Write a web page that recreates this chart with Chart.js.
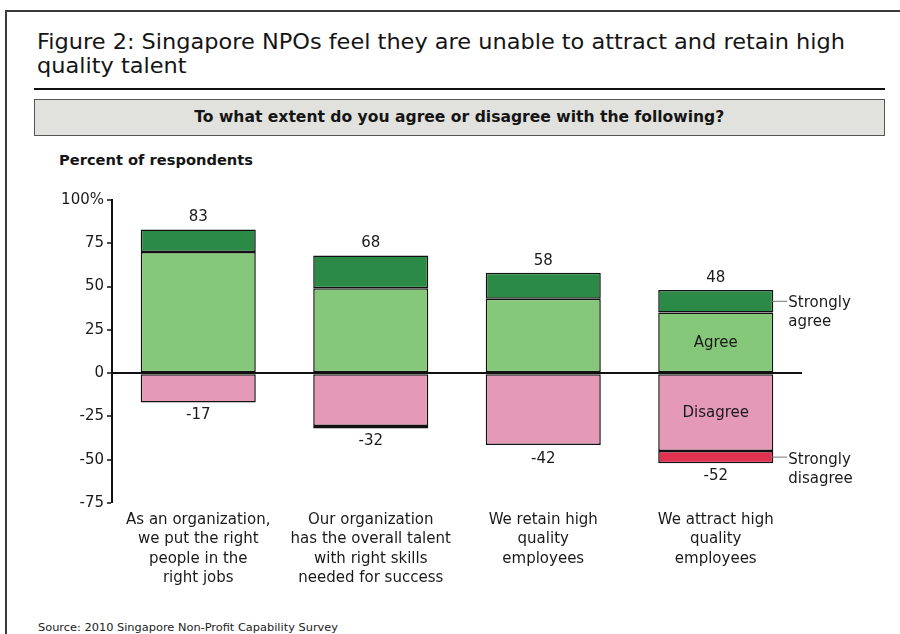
<!DOCTYPE html>
<html>
<head>
<meta charset="utf-8">
<script src="https://cdn.jsdelivr.net/npm/chart.js@4"></script>
<style>
  html, body { margin: 0; padding: 0; background: #fff; }
  body { width: 900px; height: 634px; position: relative; overflow: hidden; font-family: "DejaVu Sans", Verdana, sans-serif; color: #151515; }
  .abs { position: absolute; white-space: nowrap; }
  .fit { transform-origin: 0 50%; display: inline-block; }
  #frame { left: 5px; top: 10px; width: 920px; height: 700px; border-left: 2px solid #3a3a3a; border-top: 2px solid #3a3a3a; }
  #t1, #t2 { left: 37px; font-size: 21px; line-height: 24px; }
  #t1 { top: 30px; }
  #t2 { top: 54px; }
  #rule { left: 34px; top: 88px; width: 851px; height: 2px; background: #111; }
  #box { left: 34px; top: 99px; width: 849px; height: 35px; background: #e1e1dd; border: 1.5px solid #555; }
  #sub { left: 0; top: 0; width: 849px; height: 35px; line-height: 35px; text-align: center; font-weight: bold; font-size: 15px; }
  #pct { left: 59px; top: 151px; font-weight: bold; font-size: 14px; line-height: 18px; }
  #src { left: 38px; top: 621px; font-size: 10px; line-height: 14px; color: #222; }
  #c { position: absolute; left: 0; top: 0; }
</style>
</head>
<body>
<div id="frame" class="abs"></div>
<div id="t1" class="abs"><span class="fit" data-w="808">Figure 2: Singapore NPOs feel they are unable to attract and retain high</span></div>
<div id="t2" class="abs"><span class="fit" data-same="t1">quality talent</span></div>
<div id="rule" class="abs"></div>
<div id="box" class="abs"><div id="sub" class="abs"><span class="fit" data-w="530" style="transform-origin:50% 50%">To what extent do you agree or disagree with the following?</span></div></div>
<div id="pct" class="abs"><span class="fit" data-w="194">Percent of respondents</span></div>
<div id="src" class="abs"><span class="fit" data-w="300">Source: 2010 Singapore Non-Profit Capability Survey</span></div>
<canvas id="c" width="900" height="634"></canvas>
<script>
// ---- data ----
const categories = [
  ["As an organization,", "we put the right", "people in the", "right jobs"],
  ["Our organization", "has the overall talent", "with right skills", "needed for success"],
  ["We retain high", "quality", "employees"],
  ["We attract high", "quality", "employees"]
];
const agree            = [70, 49, 43, 35];
const stronglyAgree    = [13, 19, 15, 13];
const disagree         = [-17, -30.5, -41.5, -45];
const stronglyDisagree = [null, -1.5, null, -7];
const positiveTotals   = [83, 68, 58, 48];
const negativeTotals   = [-17, -32, -42, -52];
const yMin = -75, yMax = 100, yStep = 25;

// ---- fit header texts to measured widths ----
const scales = {};
document.querySelectorAll('.fit[data-w]').forEach(el => {
  const w = el.getBoundingClientRect().width;
  const s = parseFloat(el.dataset.w) / w;
  el.style.transform = 'scaleX(' + s + ')';
  scales[el.parentElement.id] = s;
});
document.querySelectorAll('.fit[data-same]').forEach(el => {
  el.style.transform = 'scaleX(' + scales[el.dataset.same] + ')';
});

const FONT = '"DejaVu Sans", Verdana, sans-serif';
const TXT = '#1a1a1a';

const annot = {
  id: 'annot',
  afterDatasetsDraw(chart) {
    const ctx = chart.ctx;
    const y = chart.scales.y;
    const x = chart.scales.x;
    ctx.save();
    ctx.font = '15px ' + FONT;
    ctx.fillStyle = TXT;
    ctx.textAlign = 'center';
    ctx.textBaseline = 'middle';
    categories.forEach((c, i) => {
      const cx = x.getPixelForValue(i);
      ctx.fillText(String(positiveTotals[i]), cx, y.getPixelForValue(positiveTotals[i]) - 12);
      ctx.fillText(String(negativeTotals[i]), cx, y.getPixelForValue(negativeTotals[i]) + 13);
    });
    // segment labels in the last bar
    const last = categories.length - 1;
    const eA = chart.getDatasetMeta(0).data[last];
    const eD = chart.getDatasetMeta(2).data[last];
    ctx.fillText('Agree', eA.x, (eA.y + eA.base) / 2 + 1);
    ctx.fillText('Disagree', eD.x, (eD.y + eD.base) / 2 + 1);
    // callouts
    const callout = (el, lines, dy) => {
      const my = (el.y + el.base) / 2;
      const rx = el.x + el.width / 2;
      ctx.strokeStyle = '#777';
      ctx.lineWidth = 1;
      ctx.beginPath();
      ctx.moveTo(rx - 3, my);
      ctx.lineTo(rx + 14, my);
      ctx.stroke();
      ctx.textAlign = 'left';
      lines.forEach((t, k) => ctx.fillText(t, rx + 15, my + dy + k * 19));
    };
    callout(chart.getDatasetMeta(1).data[last], ['Strongly', 'agree'], 2);
    callout(chart.getDatasetMeta(3).data[last], ['Strongly', 'disagree'], 3);
    ctx.restore();
  }
};

const common = { borderColor: '#111', borderWidth: 1.5, borderSkipped: false, stack: 's' };
new Chart(document.getElementById('c'), {
  type: 'bar',
  data: {
    labels: categories,
    datasets: [
      Object.assign({ label: 'Agree', data: agree, backgroundColor: '#85c87a' }, common),
      Object.assign({ label: 'Strongly agree', data: stronglyAgree, backgroundColor: '#2b8a45' }, common),
      Object.assign({ label: 'Disagree', data: disagree, backgroundColor: '#e49ab7' }, common),
      Object.assign({ label: 'Strongly disagree', data: stronglyDisagree, backgroundColor: '#e0314f' }, common)
    ]
  },
  options: {
    responsive: false,
    animation: false,
    devicePixelRatio: 1,
    layout: { padding: { left: 52, right: 98, top: 200, bottom: 0 } },
    plugins: { legend: { display: false }, tooltip: { enabled: false }, title: { display: false } },
    datasets: { bar: { categoryPercentage: 1, barPercentage: 0.667 } },
    scales: {
      x: {
        stacked: true,
        afterFit(s) { s.height = 131; },
        grid: { display: false },
        border: { display: false },
        ticks: { color: TXT, font: { family: FONT, size: 15, lineHeight: 1.27 }, padding: 0, maxRotation: 0, autoSkip: false }
      },
      y: {
        stacked: true,
        z: 1,
        min: yMin, max: yMax,
        afterFit(s) { s.width = 60; },
        border: { display: true, color: '#111', width: 2 },
        grid: {
          drawOnChartArea: true,
          color: c => (c.tick && c.tick.value === 0) ? '#111' : 'rgba(0,0,0,0)',
          lineWidth: c => (c.tick && c.tick.value === 0) ? 2 : 0,
          tickColor: '#111', tickLength: 5, tickWidth: 1.5, drawTicks: true
        },
        ticks: {
          stepSize: yStep, color: TXT, padding: 3,
          font: { family: FONT, size: 15 },
          callback: v => v === yMax ? v + '%' : String(v)
        }
      }
    }
  },
  plugins: [annot]
});
</script>
</body>
</html>
